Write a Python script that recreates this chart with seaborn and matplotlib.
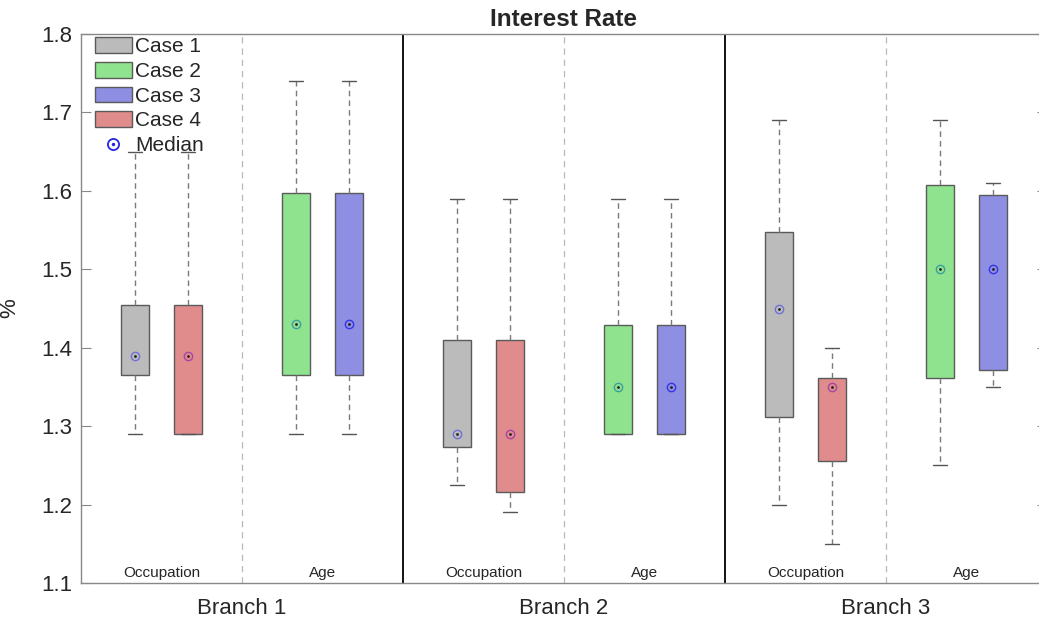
import matplotlib
matplotlib.use("Agg")
import matplotlib.pyplot as plt
import pandas as pd
import seaborn as sns
from matplotlib.patches import Patch
from matplotlib.lines import Line2D
from matplotlib.legend_handler import HandlerTuple

branches = ["Branch 1", "Branch 2", "Branch 3"]
factors = ["Occupation", "Age"]
cases = ["Case 1", "Case 2", "Case 3", "Case 4"]

# one box per (branch, factor, slot); each factor compares two cases
box_branch = [0, 0, 0, 0, 1, 1, 1, 1, 2, 2, 2, 2]
box_factor = [0, 0, 1, 1, 0, 0, 1, 1, 0, 0, 1, 1]
box_case = ["Case 1", "Case 4", "Case 2", "Case 3"] * 3

whisker_low = [1.29, 1.29, 1.29, 1.29, 1.225, 1.19, 1.29, 1.29, 1.20, 1.15, 1.25, 1.35]
quartile_1 = [1.365, 1.29, 1.365, 1.365, 1.273, 1.216, 1.29, 1.29, 1.312, 1.255, 1.362, 1.372]
medians = [1.39, 1.39, 1.43, 1.43, 1.29, 1.29, 1.35, 1.35, 1.45, 1.35, 1.50, 1.50]
quartile_3 = [1.455, 1.455, 1.597, 1.597, 1.41, 1.41, 1.429, 1.429, 1.547, 1.362, 1.607, 1.595]
whisker_high = [1.65, 1.65, 1.74, 1.74, 1.59, 1.59, 1.59, 1.59, 1.69, 1.40, 1.69, 1.61]

y_ticks = [1.1, 1.2, 1.3, 1.4, 1.5, 1.6, 1.7, 1.8]

case_fill = {"Case 1": "#bbbbbb", "Case 2": "#8fe38f", "Case 3": "#8e8ee3", "Case 4": "#e08c8c"}
median_ring = {"Case 1": "#7070d8", "Case 2": "#3f9f9f", "Case 3": "#3535e6", "Case 4": "#a545a5"}

sns.set_style("white")
plt.rcParams["font.family"] = ["Liberation Sans", "DejaVu Sans"]

# each factor block is 3 units wide, boxes sit at +1 and +2
slot = [i % 2 for i in range(len(box_case))]
positions = [(b * 2 + f) * 3 + 1 + s for b, f, s in zip(box_branch, box_factor, slot)]

# five points per box reproduce min / q1 / median / q3 / max exactly
rows = []
for i, pos in enumerate(positions):
    for v in (whisker_low[i], quartile_1[i], medians[i], quartile_3[i], whisker_high[i]):
        rows.append({"pos": pos, "value": v, "case": box_case[i]})
df = pd.DataFrame(rows)

fig = plt.figure(figsize=(10.39, 6.21), dpi=100)
ax = fig.add_axes([81 / 1039, 1 - 583 / 621, 966 / 1039, 549 / 621])

sns.boxplot(
    data=df, x="pos", y="value", hue="case", hue_order=cases, palette=case_fill,
    saturation=1, native_scale=True, dodge=False, width=0.52, whis=(0, 100),
    showfliers=False, linecolor="#5a5a5a", linewidth=1.0, legend=False, ax=ax,
    medianprops={"visible": False},
    whiskerprops={"linestyle": (0, (4, 3)), "color": "#7a7a7a"},
    capprops={"color": "#555555"},
)

# median markers: ring with a dark centre dot
for pos, med, case in zip(positions, medians, box_case):
    ax.plot(pos, med, marker="o", ms=6, mfc="none", mec=median_ring[case], mew=1.0, zorder=5)
    ax.plot(pos, med, marker="o", ms=2, mfc="#222222", mec="none", zorder=6)

# block separators
for k in range(1, 3):
    ax.axvline(6 * k, color="black", lw=1.3, zorder=1)
for k in range(3):
    ax.axvline(6 * k + 3, color="#b8b8b8", lw=0.9, ls=(0, (5, 4)), zorder=1)

# factor labels inside the plot
for b in range(len(branches)):
    for f, name in enumerate(factors):
        ax.text((b * 2 + f) * 3 + 1.5, 0.018, name, transform=ax.get_xaxis_transform(),
                ha="center", va="center", fontsize=11, color="#262626")

ax.set_xlim(0, 18)
ax.set_ylim(1.1, 1.8)
ax.set_yticks(y_ticks)
ax.set_yticklabels([f"{t:.1f}" for t in y_ticks])
ax.set_xticks([6 * b + 3 for b in range(len(branches))])
ax.set_xticklabels(branches)
ax.tick_params(axis="x", length=0, labelsize=16, pad=11, labelcolor="#262626")
ax.tick_params(axis="y", direction="in", length=7, width=0.8, color="#888888",
               left=True, right=True, labelsize=16, labelcolor="#262626", pad=6)
ax.set_xlabel("")
ax.set_ylabel("%", fontsize=16, color="#262626")
ax.yaxis.set_label_coords(-0.063, 0.5)
ax.set_title("Interest Rate", fontsize=17.5, fontweight="bold", pad=6)

for side in ("left", "bottom", "top", "right"):
    ax.spines[side].set_visible(True)
    ax.spines[side].set_color("#888888")
    ax.spines[side].set_linewidth(1.0)

handles = [Patch(facecolor=case_fill[c], edgecolor="#5a5a5a", linewidth=1.0) for c in cases]
med_handle = (Line2D([], [], ls="none", marker="o", ms=8, mfc="none", mec="#2525e6", mew=1.3),
              Line2D([], [], ls="none", marker="o", ms=2.5, mfc="#2525e6", mec="none"))
ax.legend(handles + [med_handle], cases + ["Median"], loc="upper left",
          bbox_to_anchor=(0.012, 0.998), frameon=False, fontsize=15,
          handlelength=1.8, handleheight=0.78, handletextpad=0.15, labelspacing=0.27,
          borderaxespad=0, borderpad=0.1,
          handler_map={tuple: HandlerTuple(ndivide=1, pad=0)})

fig.savefig("out.png", dpi=100)
